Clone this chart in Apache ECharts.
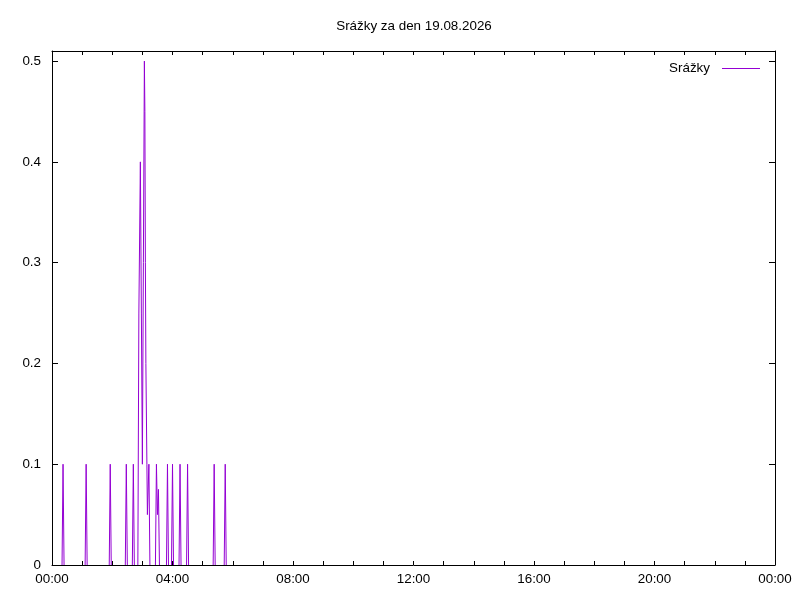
<!DOCTYPE html>
<html>
<head>
<meta charset="utf-8">
<script src="https://cdn.jsdelivr.net/npm/echarts@6/dist/echarts.min.js"></script>
<style>
html,body{margin:0;padding:0;background:#fff;}
#chart{width:800px;height:600px;}
</style>
</head>
<body>
<div id="chart"></div>
<script>
// Sample times (minutes after midnight) and rainfall values
var sampleMinutes = [0, 20, 22, 24, 66, 68, 70, 114, 116, 118, 146, 148, 150, 160, 162, 164,
  171, 173, 176, 178, 180, 182, 184, 185, 186, 187, 189, 190, 193, 195,
  206, 208, 210, 212, 214, 228, 230, 232, 238, 240, 242, 253, 255, 257,
  268, 270, 272, 321, 323, 325, 343, 345, 347, 1440];
var sampleValues = [0, 0, 0.1, 0, 0, 0.1, 0, 0, 0.1, 0, 0, 0.1, 0, 0, 0.1, 0,
  0, 0.25, 0.40, 0.25, 0.10, 0.30, 0.50, 0.45, 0.30, 0.20, 0.10, 0.05, 0.10, 0,
  0, 0.1, 0.05, 0.075, 0, 0, 0.1, 0, 0, 0.1, 0, 0, 0.1, 0,
  0, 0.1, 0, 0, 0.1, 0, 0, 0.1, 0, 0];
var yTicks = [0, 0.1, 0.2, 0.3, 0.4, 0.5];
var xTickLabels = ['00:00', '04:00', '08:00', '12:00', '16:00', '20:00', '00:00'];
var seriesName = 'Srážky';
var chartTitle = 'Srážky za den 19.08.2026';

// Build the line data; the flat zero stretches lie under the black x axis in the
// reference, so they are left undrawn (break between two consecutive zero samples).
var data = [];
sampleMinutes.forEach(function (m, i) {
  if (i > 0 && sampleValues[i] === 0 && sampleValues[i - 1] === 0) {
    data.push([m, null]);
  }
  data.push([m, sampleValues[i]]);
});
var FONT = 'Liberation Sans, Arial, sans-serif';
var FS = 13.4;

var chart = echarts.init(document.getElementById('chart'), null, {renderer: 'canvas'});
var axisLineStyle = {color: '#000', width: 1};
chart.setOption({
  animation: false,
  backgroundColor: '#fff',
  title: {
    text: chartTitle,
    left: 409, top: 15, textAlign: 'center',
    textStyle: {fontFamily: FONT, fontSize: FS, fontWeight: 'normal', color: '#000'}
  },
  legend: {
    right: 35, top: 57, align: 'right',
    itemWidth: 38, itemHeight: 10, itemGap: 10,
    textStyle: {fontFamily: FONT, fontSize: FS, color: '#000', padding: [0, 7, 0, 0]},
    data: [{name: seriesName, icon: 'path://M0,0L38,0L38,1L0,1Z'}]
  },
  grid: {left: 52, right: 25, top: 51, bottom: 35, containLabel: false},
  xAxis: [{
    type: 'value', min: 0, max: 1440, interval: 60, position: 'bottom', z: 10,
    axisLine: {show: true, onZero: false, lineStyle: axisLineStyle},
    axisTick: {show: true, inside: true, length: 4, lineStyle: axisLineStyle},
    splitLine: {show: false},
    axisLabel: {
      margin: 8, color: '#000', fontFamily: FONT, fontSize: FS,
      formatter: function (v) { return v % 240 === 0 ? xTickLabels[v / 240] : ''; }
    }
  }, {
    type: 'value', min: 0, max: 1440, interval: 60, position: 'top', z: 10,
    axisLine: {show: true, onZero: false, lineStyle: axisLineStyle},
    axisTick: {show: true, inside: true, length: 4, lineStyle: axisLineStyle},
    splitLine: {show: false}, axisLabel: {show: false}
  }],
  yAxis: [{
    type: 'value', min: 0, max: 0.51, position: 'left', z: 10,
    axisLine: {show: true, onZero: false, lineStyle: axisLineStyle},
    axisTick: {show: true, inside: true, length: 6, lineStyle: axisLineStyle, customValues: yTicks},
    splitLine: {show: false},
    axisLabel: {
      margin: 11, color: '#000', fontFamily: FONT, fontSize: FS, customValues: yTicks,
      formatter: function (v) { return String(Math.round(v * 10) / 10); }
    }
  }, {
    type: 'value', min: 0, max: 0.51, position: 'right', z: 10,
    axisLine: {show: true, onZero: false, lineStyle: axisLineStyle},
    axisTick: {show: true, inside: true, length: 6, lineStyle: axisLineStyle, customValues: yTicks},
    splitLine: {show: false}, axisLabel: {show: false}
  }],
  series: [{
    name: seriesName, type: 'line', data: data,
    xAxisIndex: 0, yAxisIndex: 0,
    showSymbol: false, symbol: 'none', sampling: null, connectNulls: false,
    lineStyle: {color: '#9400D3', width: 1},
    itemStyle: {color: '#9400D3'},
    z: 2
  }]
});
</script>
</body>
</html>
